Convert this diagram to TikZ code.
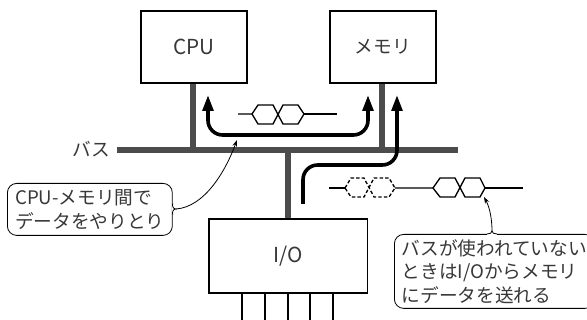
\documentclass[tikz,border=0pt]{standalone}
\usepackage{fontspec}
\setmainfont{Noto Sans CJK JP}
\usetikzlibrary{arrows.meta}
\definecolor{busgray}{gray}{0.3}
\definecolor{txt}{gray}{0.22}
\tikzset{
  x=0.75pt,y=-0.75pt,
  blockbox/.style={draw=black,line width=1.3pt,fill=white,minimum width=79.5pt,minimum height=54pt,inner sep=0pt,text=txt,font=\fontsize{14}{14}\selectfont},
  latinbox/.style={blockbox,font=\fontsize{15.5}{15.5}\selectfont},
  busline/.style={draw=busgray,line width=5.2pt},
  flow/.style={draw=black,line width=2.7pt,rounded corners=11pt,-{Triangle[length=12pt,width=8pt]}},
  sig/.style={draw=black,line width=1pt},
  sigd/.style={draw=black,line width=1pt,dash pattern=on 2.6pt off 1.6pt},
  callout/.style={draw=black,line width=0.6pt,rounded corners=7pt,fill=white,inner xsep=5.5pt,inner ysep=0pt,align=left,text=txt,font=\fontsize{14}{17.6}\selectfont},
  leader/.style={draw=black,line width=0.6pt,-{Stealth[length=5pt,width=3.5pt]}},
  notch/.style={draw=black,line width=0.6pt},
  lab/.style={text=txt,inner sep=0pt,font=\fontsize{14}{14}\selectfont},
  stub/.style={draw=black,line width=0.9pt}
}
\begin{document}
\begin{tikzpicture}
\useasboundingbox (0,0) rectangle (587,320);
\fill[white] (0,0) rectangle (587,320);
% bus
\coordinate (busL) at (117,150); \coordinate (busR) at (458,150);
\coordinate (cpuB) at (193,150); \coordinate (memB) at (382,150); \coordinate (ioB) at (288,150);
\node[latinbox,anchor=north west] (cpu) at (140,10) {CPU};
\node[blockbox,anchor=north west] (mem) at (329,10) {メモリ};
\node[latinbox,anchor=north west,minimum width=119pt,minimum height=55.5pt] (io) at (208,218) {I/O};
\draw[busline] (busL) -- (busR);
\draw[busline] (cpuB) -- (cpuB |- cpu.south);
\draw[busline] (memB) -- (memB |- mem.south);
\draw[busline] (ioB) -- (ioB |- io.north);
\node[lab,anchor=east] (buslabel) at (110,149) {バス};
% stubs
\foreach \i/\x in {a/242,b/265,c/288,d/310,e/333}{
  \coordinate (s\i) at (\x,320);
  \draw[stub] (s\i |- io.south) -- (s\i);
}
% flows
\coordinate (f1) at (208,95); \coordinate (f2) at (368,95);
\draw[flow,{Triangle[length=12pt,width=8pt]}-{Triangle[length=12pt,width=8pt]}] (f1) -- (208,135) -- (368,135) -- (f2);
\coordinate (f3) at (303,204); \coordinate (f4) at (397,95);
\draw[flow] (f3) -- (303,165) -- (397,165) -- (f4);
% signal 1
\coordinate (s1a) at (238,114); \coordinate (s1b) at (337,114);
\draw[sig] (s1a) -- (252,114) -- (258,105) -- (273,105) -- (283,124) -- (298,124) -- (304,114) -- (298,105) -- (283,105) -- (273,124) -- (258,124) -- (252,114);
\draw[sig] (304,114) -- (s1b);
% signal 2
\coordinate (s2a) at (329,188); \coordinate (s2b) at (523,188);
\draw[sig] (s2a) -- (345,188);
\draw[sigd] (345,188) -- (351,178) -- (364,178) -- (374,197) -- (389,197) -- (395,188) -- (389,178) -- (374,178) -- (364,197) -- (351,197) -- cycle;
\draw[sig] (395,188) -- (433,188) -- (440,178) -- (455,178) -- (465,197) -- (480,197) -- (485,188) -- (480,178) -- (465,178) -- (455,197) -- (440,197) -- (433,188);
\draw[sig] (485,188) -- (s2b);
% callouts
\node[callout,anchor=north west,minimum width=123.7pt,minimum height=39pt] (c1) at (7,183) {CPU-メモリ間で\\データをやりとり};
\node[callout,anchor=north west,minimum width=144pt,minimum height=55.5pt] (c2) at (394,234) {バスが使われていない\\ときはI/Oからメモリ\\にデータを送れる};
\coordinate (t1) at (237,140); \coordinate (t2) at (484,197);
\coordinate (n1) at (176,209); \coordinate (n2) at (492,231);
\draw[white,line width=1.2pt] (c1.east |- 0,203) -- (c1.east |- 0,215);
\draw[notch] (c1.east |- 0,203) .. controls (172,206) and (173,209) .. (n1) .. controls (173,209) and (172,212) .. (c1.east |- 0,215);
\draw[white,line width=1.2pt] (487,234) -- (497,234);
\draw[notch] (487,234) .. controls (490,234) and (492,233) .. (n2) .. controls (492,233) and (494,234) .. (497,234);
\draw[leader] (n1) .. controls (205,207) and (226,170) .. (t1);
\draw[leader] (n2) .. controls (492,220) and (490,208) .. (t2);
\end{tikzpicture}
\end{document}
